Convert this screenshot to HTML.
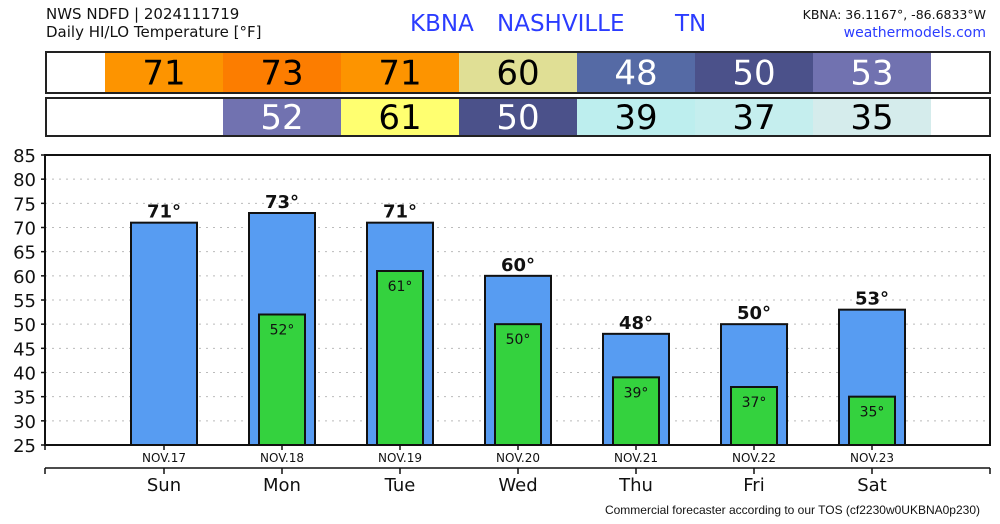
<!DOCTYPE html>
<html><head><meta charset="utf-8"><style>
body{margin:0;background:#fff;width:1000px;height:520px;overflow:hidden;font-family:"DejaVu Sans","Liberation Sans",sans-serif}
</style></head><body>
<svg width="1000" height="520" xmlns="http://www.w3.org/2000/svg" font-family="DejaVu Sans, Liberation Sans, sans-serif">
<text x="46" y="19" font-size="15" fill="#111">NWS NDFD | 2024111719</text>
<text x="46" y="37" font-size="15" fill="#111">Daily HI/LO Temperature [°F]</text>
<text x="410" y="31" font-size="23" fill="#2b3cff">KBNA</text>
<text x="497" y="31" font-size="23" fill="#2b3cff">NASHVILLE</text>
<text x="675" y="31" font-size="23" fill="#2b3cff">TN</text>
<text x="986" y="19" font-size="12.5" fill="#111" text-anchor="end">KBNA: 36.1167°, -86.6833°W</text>
<text x="986" y="37" font-size="14" fill="#2b3cff" text-anchor="end">weathermodels.com</text>
<g id="tables"></g>
<g id="grid"></g>
<g id="bars"></g>
<g id="axes"></g>
<text x="980" y="514" font-size="12" fill="#111" text-anchor="end" font-family="Liberation Sans, sans-serif">Commercial forecaster according to our TOS (cf2230w0UKBNA0p230)</text>
</svg>
<script>
const days=["Sun","Mon","Tue","Wed","Thu","Fri","Sat"];
const dates=["NOV.17","NOV.18","NOV.19","NOV.20","NOV.21","NOV.22","NOV.23"];
const hiVals=[71,73,71,60,48,50,53];
const loVals=[null,52,61,50,39,37,35];
const hiColors=["#fd9400","#fc7d00","#fd9400","#e0df95","#556aa5","#4b518a","#7172b0"];
const loColors=[null,"#7172b0","#ffff70","#4b518a","#bdeeee","#c5eeee","#d5ecec"];
const hiText=["#000","#000","#000","#000","#fff","#fff","#fff"];
const loText=[null,"#fff","#000","#fff","#000","#000","#000"];
const yTicks=[25,30,35,40,45,50,55,60,65,70,75,80,85];
const NS="http://www.w3.org/2000/svg";
const L=45,R=990,T=155,B=445,ymin=25,ymax=85;
const y=v=>B-(v-ymin)/(ymax-ymin)*(B-T);
const xc=i=>164+i*118;
function mk(tag,attrs,parent,txt){const e=document.createElementNS(NS,tag);for(const k in attrs)e.setAttribute(k,attrs[k]);if(txt!==undefined)e.textContent=txt;parent.appendChild(e);return e;}
const tb=document.getElementById("tables");
[[52,93,hiVals,hiColors,hiText,0],[98,136,loVals,loColors,loText,1]].forEach(([t,b,vals,cols,tc,r])=>{
  vals.forEach((v,i)=>{ if(v===null)return;
    const c=mk("rect",{x:xc(i)-59,y:t,width:118,height:b-t,fill:cols[i]},tb);
    
    
    const tx=mk("text",{x:xc(i),y:(t+b)/2+12,"font-size":34,"text-anchor":"middle",fill:tc[i]},tb,v);
    
    
  });
  const f=mk("rect",{x:46,y:t,width:944,height:b-t,fill:"none",stroke:"#222","stroke-width":2},tb);
  
  
});
const g=document.getElementById("grid");
yTicks.forEach(v=>{
  if(v>ymin&&v<ymax){const l=mk("line",{x1:L,x2:R,y1:y(v),y2:y(v),stroke:"#bbb","stroke-dasharray":"2,5"},g);
  }
  const t=mk("text",{x:36,y:y(v)+7,"font-size":18,"text-anchor":"end",fill:"#111"},g,v);
  
  const tk=mk("line",{x1:L-4,x2:L,y1:y(v),y2:y(v),stroke:"#111","stroke-width":1.5},g);
  
});
const bg=document.getElementById("bars");
hiVals.forEach((v,i)=>{
  const r=mk("rect",{x:xc(i)-33,y:y(v),width:66,height:B-y(v),fill:"#579cf2",stroke:"#111","stroke-width":2},bg);
  
  const t=mk("text",{x:xc(i),y:y(v)-5,"font-size":18,"font-weight":"600","text-anchor":"middle",fill:"#111"},bg,v+"°");
  
});
loVals.forEach((v,i)=>{ if(v===null)return;
  const r=mk("rect",{x:xc(i)-23,y:y(v),width:46,height:B-y(v),fill:"#34d23e",stroke:"#111","stroke-width":2},bg);
  
  const t=mk("text",{x:xc(i),y:y(v)+20,"font-size":14,"text-anchor":"middle",fill:"#111"},bg,v+"°");
  
});
const ax=document.getElementById("axes");
const fr=mk("rect",{x:L,y:T,width:R-L,height:B-T,fill:"none",stroke:"#111","stroke-width":2},ax);

const l2=mk("line",{x1:L,x2:R,y1:468,y2:468,stroke:"#111","stroke-width":1.5},ax);

[L,R].forEach(x=>{const e=mk("line",{x1:x,x2:x,y1:468,y2:474,stroke:"#111","stroke-width":1.5},ax);
});
const et=mk("line",{x1:L,x2:L,y1:445,y2:450,stroke:"#111","stroke-width":1.5},ax);

days.forEach((d,i)=>{
  const t1=mk("line",{x1:xc(i),x2:xc(i),y1:445,y2:450,stroke:"#111","stroke-width":1.5},ax);
  
  const dt=mk("text",{x:xc(i),y:462,"font-size":12,"text-anchor":"middle",fill:"#111"},ax,dates[i]);
  
  const t2=mk("line",{x1:xc(i),x2:xc(i),y1:468,y2:474,stroke:"#111","stroke-width":1.5},ax);
  
  const dl=mk("text",{x:xc(i),y:491,"font-size":18,"text-anchor":"middle",fill:"#111"},ax,d);
  
});
</script>
</body></html>
